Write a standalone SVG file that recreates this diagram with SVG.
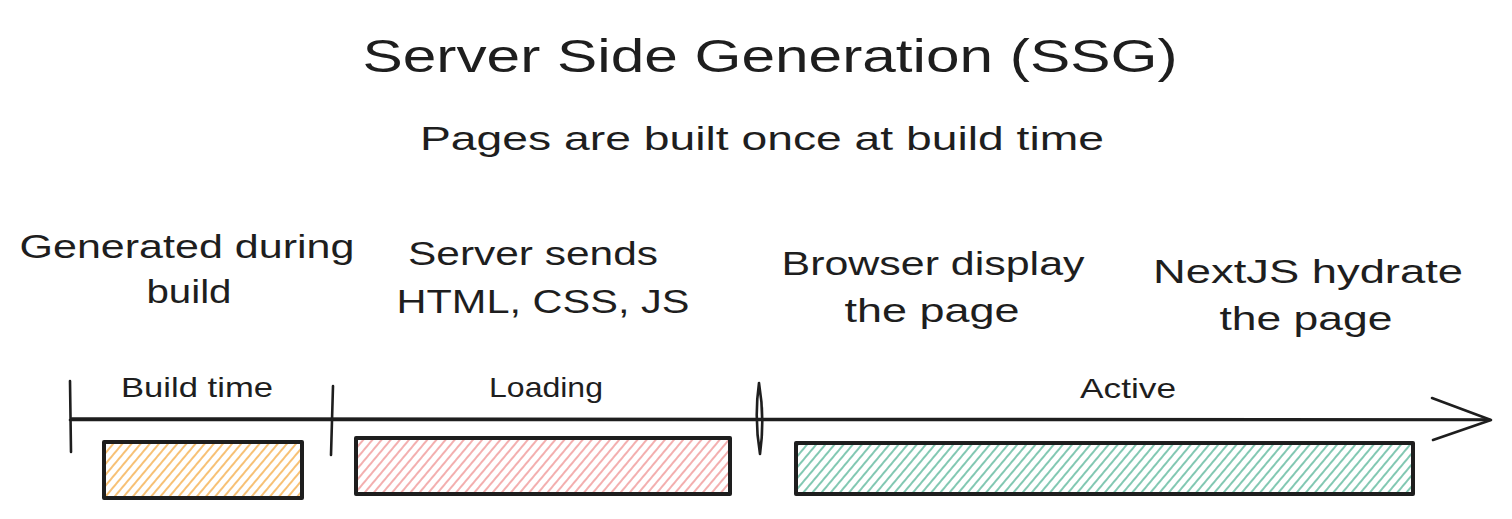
<svg xmlns="http://www.w3.org/2000/svg" width="1512" height="519" viewBox="0 0 1512 519">
<style>
text{font-family:"Liberation Sans","DejaVu Sans",sans-serif;fill:#1e1e1e;text-anchor:middle}
.t{font-size:46px}
.s{font-size:34px}
.d{font-size:34px}
.l{font-size:28px}
.ln{stroke:#1e1e1e;stroke-width:2.6;fill:none;stroke-linecap:round;stroke-linejoin:round}
.bar{stroke:#1e1e1e;stroke-width:4;stroke-linejoin:round}
</style>
<defs>
<pattern id="hO" width="7" height="7" patternUnits="userSpaceOnUse" patternTransform="rotate(40)"><line x1="1" y1="0" x2="1" y2="7" stroke="#f08c00" stroke-opacity="0.9" stroke-width="1.2"/></pattern>
<pattern id="hR" width="7" height="7" patternUnits="userSpaceOnUse" patternTransform="rotate(40)"><line x1="1" y1="0" x2="1" y2="7" stroke="#e03131" stroke-opacity="0.65" stroke-width="1.2"/></pattern>
<pattern id="hG" width="7" height="7" patternUnits="userSpaceOnUse" patternTransform="rotate(40)"><line x1="1" y1="0" x2="1" y2="7" stroke="#099268" stroke-opacity="0.85" stroke-width="1.2"/></pattern>
</defs>
<g id="title">
<text class="t" x="770" y="72" textLength="815" lengthAdjust="spacingAndGlyphs">Server Side Generation (SSG)</text>
</g>
<g id="subtitle">
<text class="s" x="762" y="150" textLength="684" lengthAdjust="spacingAndGlyphs">Pages are built once at build time</text>
</g>
<g id="desc-build">
<text class="d" x="187" y="258" textLength="335" lengthAdjust="spacingAndGlyphs">Generated during</text>
<text class="d" x="189" y="303" textLength="85" lengthAdjust="spacingAndGlyphs">build</text>
</g>
<g id="desc-server">
<text class="d" x="533" y="265" textLength="250" lengthAdjust="spacingAndGlyphs">Server sends</text>
<text class="d" x="543" y="313" textLength="293" lengthAdjust="spacingAndGlyphs">HTML, CSS, JS</text>
</g>
<g id="desc-browser">
<text class="d" x="933" y="275" textLength="303" lengthAdjust="spacingAndGlyphs">Browser display</text>
<text class="d" x="932" y="322" textLength="175" lengthAdjust="spacingAndGlyphs">the page</text>
</g>
<g id="desc-next">
<text class="d" x="1308" y="283" textLength="310" lengthAdjust="spacingAndGlyphs">NextJS hydrate</text>
<text class="d" x="1306" y="330" textLength="173" lengthAdjust="spacingAndGlyphs">the page</text>
</g>
<g id="connectors">
<path class="ln" d="M70 420 L1490 420"/>
<path class="ln" d="M72 418.5 L1488 419.5" stroke-width="1.2"/>
<path class="ln" d="M1432 398 L1491 420 L1433 440"/>
<path class="ln" d="M70 381 L71 452"/>
<path class="ln" d="M333 386 L331 455"/>
<path class="ln" d="M759 383 Q765 418 760 454 Q754 418 759 383"/>
</g>
<g id="build-time">
<text class="l" x="197" y="397" textLength="152" lengthAdjust="spacingAndGlyphs">Build time</text>
<rect class="bar" x="104" y="442" width="198" height="56" fill="url(#hO)"/>
</g>
<g id="loading">
<text class="l" x="546" y="397" textLength="114" lengthAdjust="spacingAndGlyphs">Loading</text>
<rect class="bar" x="356" y="438" width="374" height="56" fill="url(#hR)"/>
</g>
<g id="active">
<text class="l" x="1128" y="398" textLength="96" lengthAdjust="spacingAndGlyphs">Active</text>
<rect class="bar" x="796" y="443" width="617" height="51" fill="url(#hG)"/>
</g>
</svg>
